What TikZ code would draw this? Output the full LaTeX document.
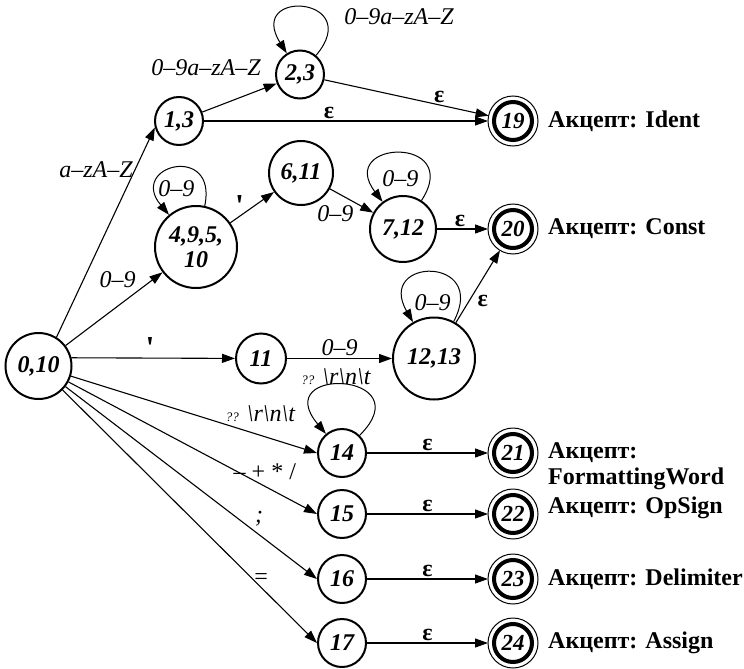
\documentclass[tikz,border=0pt]{standalone}
\usepackage{fontspec}
\setmainfont{Liberation Serif}
\usetikzlibrary{arrows.meta,positioning}

\begin{document}
\begin{tikzpicture}[
    x=1pt, y=1pt,
    >={Triangle[length=13pt,width=9pt]},
    state/.style={circle, draw, line width=2pt, inner sep=0pt, align=center,
                  font=\bfseries\itshape\fontsize{24}{25}\selectfont},
    accept/.style={circle, draw, line width=4pt, minimum size=38pt,
                   inner sep=0pt, outer sep=6pt,
                   font=\bfseries\itshape\fontsize{23}{24}\selectfont},
    trans/.style={->, line width=1.1pt},
    selfloop/.style={->, line width=1pt},
    lbl/.style={font=\itshape\fontsize{24}{26}\selectfont, inner sep=2pt},
    eps/.style={font=\bfseries\fontsize{24}{26}\selectfont, inner sep=2pt},
    tick/.style={font=\bfseries\fontsize{32}{32}\selectfont, inner sep=1pt},
    acclabel/.style={font=\bfseries\fontsize{24}{26}\selectfont, align=left, inner sep=0pt}
]
\useasboundingbox (0,0) rectangle (744,-669);

% Stati
\node[state, minimum size=66pt] at (38.5,-366) (s010) {0,10};
\node[state, minimum size=48pt] at (179,-121) (s13) {1,3};
\node[state, minimum size=48pt] at (300,-74.5) (s23) {2,3};
\node[state, minimum size=82pt] at (196,-247) (s4) {4,9,5,\\10};
\node[state, minimum size=64pt] at (301,-173) (s6) {6,11};
\node[state, minimum size=66pt] at (403,-229) (s7) {7,12};
\node[state, minimum size=50pt] at (261,-358.5) (s11) {11};
\node[state, minimum size=82pt] at (434,-358.5) (s12) {12,13};
\node[state, minimum size=48pt] at (342,-453) (s14) {14};
\node[state, minimum size=48pt] at (342,-514) (s15) {15};
\node[state, minimum size=48pt] at (342,-579) (s16) {16};
\node[state, minimum size=48pt] at (342,-643) (s17) {17};

% Stati finali
\node[accept] at (513,-121) (a19) {19};
\node[accept] at (513,-229) (a20) {20};
\node[accept] at (513,-453) (a21) {21};
\node[accept] at (513,-514) (a22) {22};
\node[accept] at (513,-579) (a23) {23};
\node[accept] at (513,-643) (a24) {24};

\node[acclabel, right=10pt of a19] (l19) {Акцепт: Ident};
\node[acclabel, right=10pt of a20] (l20) {Акцепт: Const};
\node[acclabel, right=10pt of a21, yshift=-13pt] (l21) {Акцепт:\\FormattingWord};
\node[acclabel, right=10pt of a22, yshift=6pt] (l22) {Акцепт: OpSign};
\node[acclabel, right=10pt of a23] (l23) {Акцепт: Delimiter};
\node[acclabel, right=10pt of a24] (l24) {Акцепт: Assign};

% Identificatori
\draw[trans] (s010.58) -- node[lbl, pos=0.8, left] {a–zA–Z} (s13.195);
\draw[trans] (s13) -- node[lbl, pos=0.05, above=32pt] {0–9a–zA–Z} (s23);
\draw[selfloop] (s23) to[out=50, in=122, looseness=6.7]
    node[lbl, pos=0.3, right=18pt] {0–9a–zA–Z} (s23);
\draw[trans] (s23) -- node[eps, pos=0.7, above] {ε} (a19);
\draw[trans] (s13) -- node[eps, pos=0.44, above] {ε} (a19);

% Costanti
\draw[trans] (s010) -- node[lbl, pos=0.75, above left] {0–9} (s4);
\draw[selfloop] (s4) to[out=78, in=130, looseness=4.5]
    node[lbl, pos=0.5, below=10pt] {0–9} (s4);
\draw[trans] (s4) -- node[tick, pos=0.35, above left=-6pt and 0pt] {\textquotesingle} (s6);
\draw[trans] (s6) -- node[lbl, pos=0.6, below left] {0–9} (s7);
\draw[selfloop] (s7) to[out=57, in=127, looseness=5.1]
    node[lbl, pos=0.5, below=15pt] {0–9} (s7);
\draw[trans] (s7) -- node[eps, pos=0.45, above] {ε} (a20);

\draw[trans] (s010.14) -- node[tick, pos=0.48, above=-2pt] {\textquotesingle} (s11);
\draw[trans] (s11) -- node[lbl, pos=0.5, above] {0–9} (s12);
\draw[selfloop] (s12) to[out=62, in=120, looseness=4.7]
    node[lbl, pos=0.5, below=19pt] {0–9} (s12);
\draw[trans] (s12) -- node[eps, pos=0.3, right=6pt] {ε} (a20);

% Separatori e operatori
\draw[trans] (s010) -- node[lbl, pos=0.77, above=11pt]
    {{\fontsize{13}{14}\selectfont ??} \textbackslash r\textbackslash n\textbackslash t} (s14.west);
\draw[selfloop] (s14) to[out=45, in=130, looseness=6.8]
    node[lbl, pos=0.5, above=-2pt, xshift=-9pt]
    {{\fontsize{13}{14}\selectfont ??} \textbackslash r\textbackslash n\textbackslash t} (s14);
\draw[trans] (s010) -- node[lbl, pos=0.79, above=4pt] {\upshape – + * /} (s15.west);
\draw[trans] (s010) -- node[lbl, pos=0.77, above=6pt] {;} (s16.west);
\draw[trans] (s010) -- node[lbl, pos=0.78, above] {\upshape =} (s17.west);

\foreach \from/\to in {s14/a21, s15/a22, s16/a23, s17/a24}
    \draw[trans] (\from) -- node[eps, above] {ε} (\to);

% Cerchi esterni degli stati finali
\foreach \n in {19,...,24}
    \draw[line width=1pt] (a\n.center) circle[radius=25pt];

\end{tikzpicture}
\end{document}
